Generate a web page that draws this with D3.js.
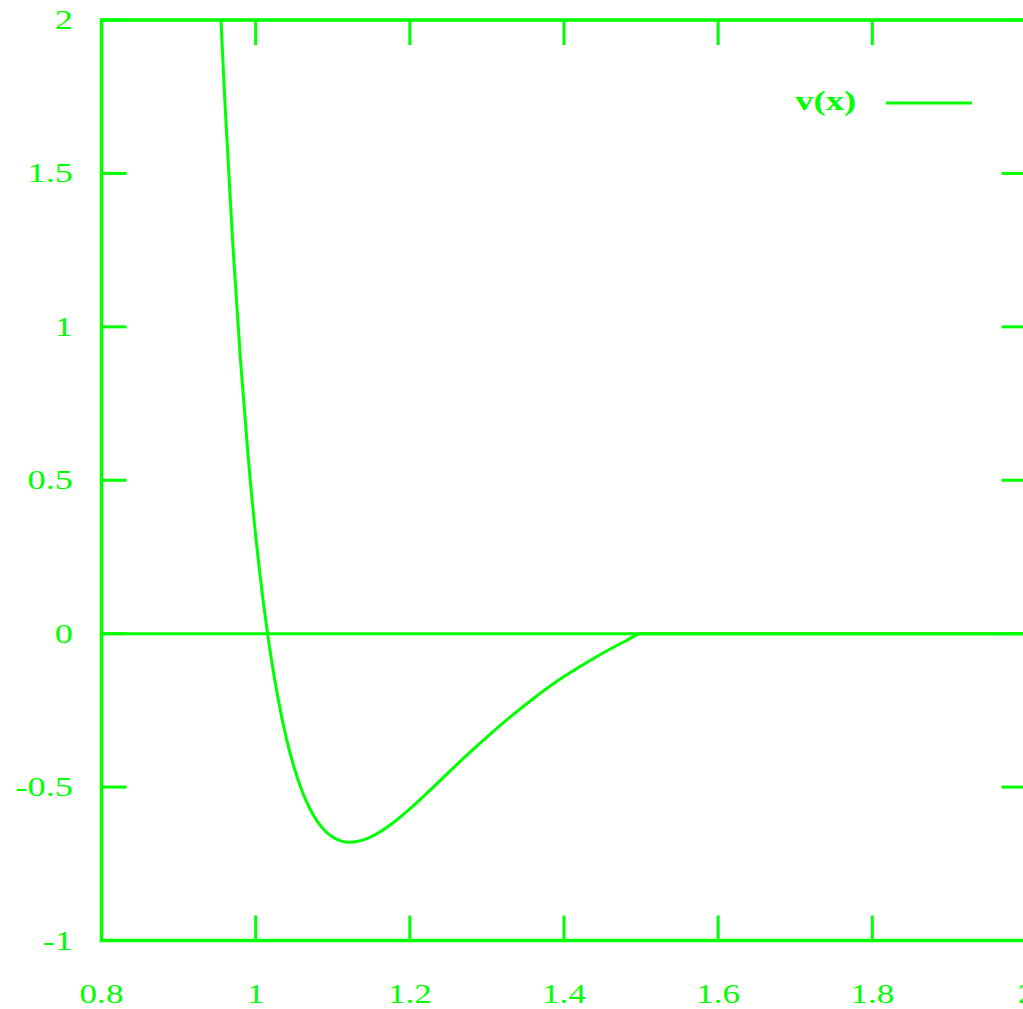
<!DOCTYPE html>
<html>
<head>
<meta charset="utf-8">
<script src="https://cdn.jsdelivr.net/npm/d3@7"></script>
<style>
  html, body { margin: 0; padding: 0; background: #ffffff; }
  svg { display: block; }
  text { font-family: "Liberation Serif", "DejaVu Serif", serif; fill: #00ff00; }
</style>
</head>
<body>
<svg id="chart" width="1023" height="1009"></svg>
<script>
// ---- data ----
const xValues = [0.955, 0.96, 0.97, 0.98, 0.99, 1.00, 1.01, 1.02, 1.03, 1.04, 1.05, 1.06, 1.07, 1.08, 1.09, 1.10,
                 1.12, 1.14, 1.16, 1.18, 1.20, 1.22, 1.25, 1.28, 1.30, 1.33, 1.36, 1.40, 1.43, 1.46, 1.48, 1.50, 1.75, 2.00];
const vValues = [1.998, 1.738, 1.283, 0.902, 0.584, 0.320, 0.102, -0.078, -0.224, -0.343, -0.437, -0.512, -0.569, -0.612, -0.643, -0.663,
                 -0.680, -0.672, -0.648, -0.613, -0.571, -0.525, -0.453, -0.382, -0.337, -0.272, -0.212, -0.140, -0.093, -0.050, -0.024, 0.0, 0.0, 0.0];
const xTicks = [0.8, 1.0, 1.2, 1.4, 1.6, 1.8, 2.0];
const xTickLabels = ["0.8", "1", "1.2", "1.4", "1.6", "1.8", "2"];
const yTicks = [-1, -0.5, 0, 0.5, 1, 1.5, 2];
const yTickLabels = ["-1", "-0.5", "0", "0.5", "1", "1.5", "2"];
const seriesName = "v(x)";

// ---- layout ----
const green = "#00ff00";
const plotLeft = 101.5, plotRight = 1026.5, plotTop = 20, plotBottom = 940.5;
const tickLen = 25;
const fontSize = 28;
const stretch = 1.3;

const svg = d3.select("#chart");
const x = d3.scaleLinear().domain([0.8, 2.0]).range([plotLeft, plotRight]);
const y = d3.scaleLinear().domain([-1, 2]).range([plotBottom, plotTop]);

const g = svg.append("g");

// zero axis
g.append("line")
  .attr("x1", x(0.8)).attr("x2", x(2.0))
  .attr("y1", y(0)).attr("y2", y(0))
  .attr("stroke", green).attr("stroke-width", 3);

// ticks (mirrored on all sides)
const tickStroke = 3;
xTicks.forEach(t => {
  g.append("line").attr("x1", x(t)).attr("x2", x(t)).attr("y1", plotBottom).attr("y2", plotBottom - tickLen)
    .attr("stroke", green).attr("stroke-width", tickStroke);
  g.append("line").attr("x1", x(t)).attr("x2", x(t)).attr("y1", plotTop).attr("y2", plotTop + tickLen)
    .attr("stroke", green).attr("stroke-width", tickStroke);
});
yTicks.forEach(t => {
  g.append("line").attr("x1", plotLeft).attr("x2", plotLeft + tickLen).attr("y1", y(t)).attr("y2", y(t))
    .attr("stroke", green).attr("stroke-width", tickStroke);
  g.append("line").attr("x1", plotRight).attr("x2", plotRight - tickLen).attr("y1", y(t)).attr("y2", y(t))
    .attr("stroke", green).attr("stroke-width", tickStroke);
});

// border
g.append("rect")
  .attr("x", plotLeft).attr("y", plotTop).attr("width", plotRight - plotLeft).attr("height", plotBottom - plotTop)
  .attr("fill", "none").attr("stroke", green).attr("stroke-width", 3.5);

// helper: horizontally widened text
function label(px, py, anchor, str, weight, size) {
  const t = g.append("g").attr("transform", `translate(${px},${py}) scale(${stretch},1)`)
    .append("text").attr("x", 0).attr("y", 0)
    .attr("text-anchor", anchor).attr("font-size", size || fontSize)
    .text(str);
  if (weight) t.attr("font-weight", weight);
  return t;
}

// tick labels
xTicks.forEach((t, i) => label(x(t), 1003, "middle", xTickLabels[i], null, 27));
yTicks.forEach((t, i) => label(73, y(t) + 9, "end", yTickLabels[i]));

// curve
const pts = xValues.map((xv, i) => [xv, vValues[i]]);
g.append("path")
  .datum(pts)
  .attr("fill", "none").attr("stroke", green).attr("stroke-width", 3)
  .attr("stroke-linejoin", "round")
  .attr("d", d3.line().x(d => x(d[0])).y(d => y(d[1])).curve(d3.curveMonotoneX));

// legend
label(856, 110, "end", seriesName, "bold");
g.append("line").attr("x1", 886).attr("x2", 972).attr("y1", 103).attr("y2", 103)
  .attr("stroke", green).attr("stroke-width", 3);
</script>
</body>
</html>
